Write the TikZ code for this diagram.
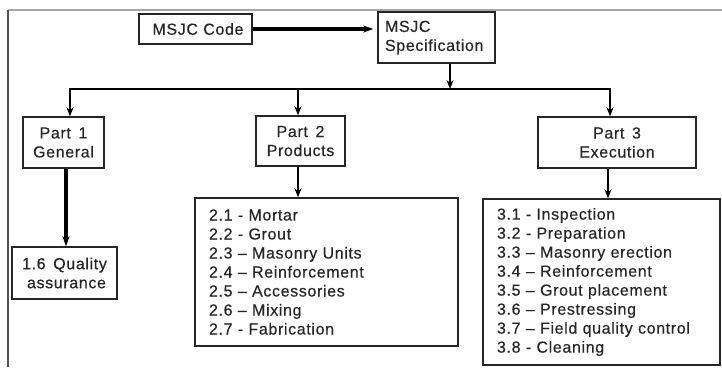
\documentclass[tikz,border=0pt]{standalone}
\usepackage{fontspec}
\setmainfont{Liberation Sans}[WordSpace=1.5, LetterSpace=4, FakeBold=0.4]
\usetikzlibrary{arrows.meta}
\definecolor{ink}{gray}{0.15}
\tikzset{
  box/.style={draw=ink, line width=1.4pt, rectangle, text=ink, inner sep=0pt,
    font=\fontsize{16}{19}\selectfont},
  conn/.style={draw=black, line width=2.2pt, -{Stealth[length=9pt,width=7pt]}},
  thickconn/.style={draw=black, line width=3.2pt, -{Stealth[length=10pt,width=7pt]}},
  bus/.style={draw=black, line width=2pt},
}
\begin{document}
\begin{tikzpicture}[x=1pt,y=-1pt]
\useasboundingbox (0,0) rectangle (722,367);
% frame
\draw[gray!70, line width=1.2pt] (8,10) -- (722,10);
\draw[ink!80, line width=1.2pt] (8,10) -- (8,367);
% boxes
\node[box, minimum width=113pt, minimum height=30pt, align=left, text width=104pt, inner xsep=0pt] (code) at (195.5,29) {\hspace*{9pt}MSJC Code};
\node[box, minimum width=117pt, minimum height=51pt, align=left, text width=103pt] (spec) at (436.5,37.5) {MSJC\\Specification};
\node[box, minimum width=81pt, minimum height=51pt, align=center] (p1) at (63.5,142.5) {Part 1\\General};
\node[box, minimum width=89pt, minimum height=50pt, align=center] (p2) at (300.5,141) {Part 2\\Products};
\node[box, minimum width=158pt, minimum height=51pt, align=center] (p3) at (617,142.5) {Part 3\\Execution};
\node[box, minimum width=105pt, minimum height=52pt, align=center] (qa) at (64.5,273) {1.6 Quality\\\hspace*{4pt}assurance};
\node[box, minimum width=263pt, minimum height=148pt, align=left, text width=235pt] (prod) at (326.5,272) {2.1 - Mortar\\2.2 - Grout\\2.3 -- Masonry Units\\2.4 -- Reinforcement\\2.5 -- Accessories\\2.6 -- Mixing\\2.7 - Fabrication};
\node[box, minimum width=237pt, minimum height=166pt, align=left, text width=209pt] (exec) at (601.5,282) {3.1 - Inspection\\3.2 - Preparation\\3.3 -- Masonry erection\\3.4 -- Reinforcement\\3.5 -- Grout placement\\3.6 -- Prestressing\\3.7 -- Field quality control\\3.8 - Cleaning};
% connectors
\coordinate (busL) at (70,89);
\coordinate (busR) at (610,89);
\coordinate (busM) at (450,89);
\draw[thickconn] (code.east) -- ([xshift=-4pt]code.east -| spec.west);
\draw[conn] (spec.south -| busM) -- (busM);
\draw[bus] (busL) -- (busR);
\draw[conn] ([yshift=1pt]busL) -- (p1.north -| busL);
\draw[conn] (busL -| 298,0) -- (p2.north -| 298,0);
\draw[conn] ([yshift=1pt]busR) -- (p3.north -| busR);
\draw[thickconn] (p1.south -| 66,0) -- (qa.north -| 66,0);
\draw[conn] (p2.south -| 298,0) -- (prod.north -| 298,0);
\draw[conn] (p3.south -| 608,0) -- (exec.north -| 608,0);
\end{tikzpicture}
\end{document}
